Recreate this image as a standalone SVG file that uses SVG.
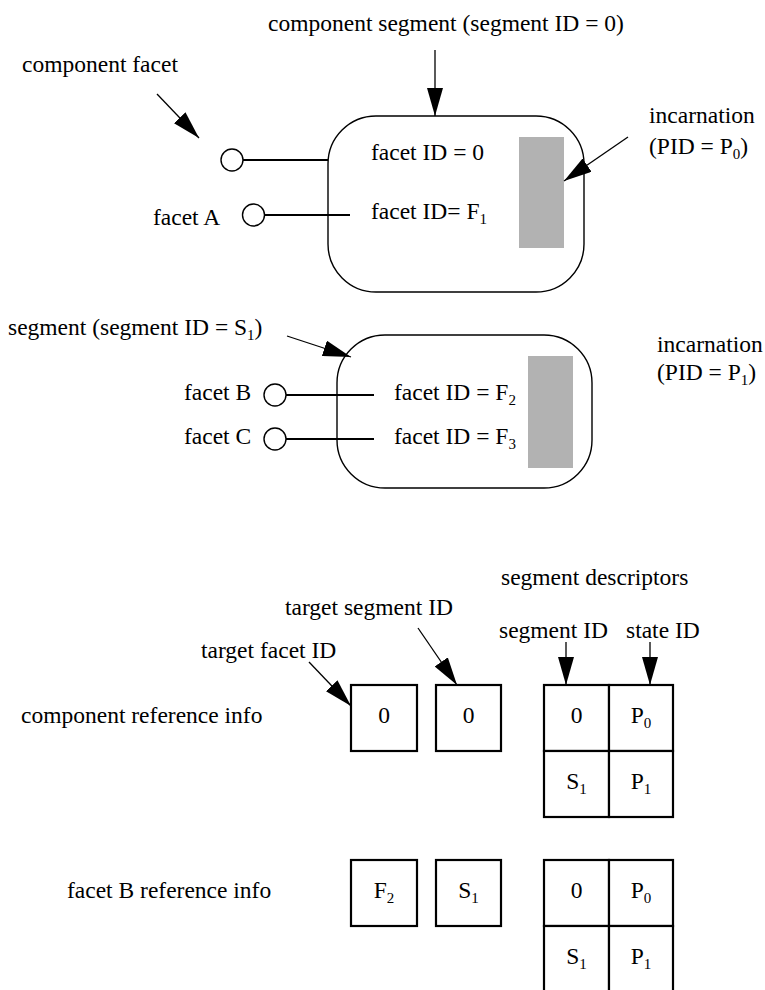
<svg xmlns="http://www.w3.org/2000/svg" width="765" height="990" viewBox="0 0 765 990">
<defs>
<marker id="ah" viewBox="0 0 28 16" refX="28" refY="8" markerWidth="28" markerHeight="16" markerUnits="userSpaceOnUse" orient="auto"><path d="M0,0 L28,8 L0,16 z" fill="#000"/></marker>
<style>
text{font-family:"Liberation Serif","Times New Roman",serif;font-size:23.5px;fill:#000}
.sub{font-size:15px}
.mid{text-anchor:middle}
.seg{fill:#fff;stroke:#000;stroke-width:1.4}
.inc{fill:#b2b2b2}
.port{fill:#fff;stroke:#000;stroke-width:1.4}
.wire{stroke:#000;stroke-width:2;fill:none}
.arrow{stroke:#000;stroke-width:1.3;fill:none;marker-end:url(#ah)}
.cell{fill:#fff;stroke:#000;stroke-width:2.2}
</style>
</defs>
<rect x="0" y="0" width="765" height="990" fill="#fff"/>

<g id="component-segment">
<rect class="seg" x="328" y="116" width="256" height="176" rx="48" ry="48"/>
<rect class="inc" x="519" y="137" width="45" height="111"/>
<text x="371" y="160">facet ID = 0</text>
<text x="371" y="219">facet ID= F<tspan class="sub" dy="5">1</tspan></text>
</g>

<g id="segment-s1">
<rect class="seg" x="337" y="335" width="255" height="153" rx="48" ry="48"/>
<rect class="inc" x="528" y="356" width="45" height="112"/>
<text x="394" y="400">facet ID = F<tspan class="sub" dy="5">2</tspan></text>
<text x="394" y="444">facet ID = F<tspan class="sub" dy="5">3</tspan></text>
</g>

<g id="facet-component">
<circle class="port" cx="232" cy="160" r="11"/>
</g>
<g id="facet-a">
<circle class="port" cx="253.5" cy="215" r="11"/>
<text x="153" y="225">facet A</text>
</g>
<g id="facet-b">
<circle class="port" cx="275" cy="395" r="11"/>
<text x="184" y="400">facet B</text>
</g>
<g id="facet-c">
<circle class="port" cx="275" cy="439" r="11"/>
<text x="184" y="444">facet C</text>
</g>

<g id="labels">
<text x="268" y="31">component segment (segment ID = 0)</text>
<text x="22" y="72">component facet</text>
<text x="649" y="123">incarnation</text>
<text x="649" y="154">(PID = P<tspan class="sub" dy="5">0</tspan><tspan dy="-5">)</tspan></text>
<text x="8" y="335">segment (segment ID = S<tspan class="sub" dy="5">1</tspan><tspan dy="-5">)</tspan></text>
<text x="657" y="352">incarnation</text>
<text x="657" y="380">(PID = P<tspan class="sub" dy="5">1</tspan><tspan dy="-5">)</tspan></text>
<text x="501" y="585">segment descriptors</text>
<text x="285" y="615">target segment ID</text>
<text x="499" y="638">segment ID</text>
<text x="626" y="638">state ID</text>
<text x="201" y="658">target facet ID</text>
<text x="21" y="723">component reference info</text>
<text x="67" y="898">facet B reference info</text>
</g>

<g id="component-reference-info">
<rect class="cell" x="351" y="685" width="66" height="66"/>
<text class="mid" x="384" y="723">0</text>
<rect class="cell" x="436" y="685" width="65" height="66"/>
<text class="mid" x="468.5" y="723">0</text>
<rect class="cell" x="544" y="685" width="65" height="66"/>
<rect class="cell" x="609" y="685" width="64" height="66"/>
<rect class="cell" x="544" y="751" width="65" height="66"/>
<rect class="cell" x="609" y="751" width="64" height="66"/>
<text class="mid" x="576.5" y="723">0</text>
<text class="mid" x="641" y="723">P<tspan class="sub" dy="5">0</tspan></text>
<text class="mid" x="576.5" y="789">S<tspan class="sub" dy="5">1</tspan></text>
<text class="mid" x="641" y="789">P<tspan class="sub" dy="5">1</tspan></text>
</g>

<g id="facet-b-reference-info">
<rect class="cell" x="351" y="860" width="66" height="66"/>
<text class="mid" x="384" y="898">F<tspan class="sub" dy="5">2</tspan></text>
<rect class="cell" x="436" y="860" width="65" height="66"/>
<text class="mid" x="468.5" y="898">S<tspan class="sub" dy="5">1</tspan></text>
<rect class="cell" x="544" y="860" width="65" height="66"/>
<rect class="cell" x="609" y="860" width="64" height="66"/>
<rect class="cell" x="544" y="926" width="65" height="66"/>
<rect class="cell" x="609" y="926" width="64" height="66"/>
<text class="mid" x="576.5" y="898">0</text>
<text class="mid" x="641" y="898">P<tspan class="sub" dy="5">0</tspan></text>
<text class="mid" x="576.5" y="964">S<tspan class="sub" dy="5">1</tspan></text>
<text class="mid" x="641" y="964">P<tspan class="sub" dy="5">1</tspan></text>
</g>

<g id="connectors">
<line class="wire" x1="243" y1="160" x2="328" y2="160"/>
<line class="wire" x1="264.5" y1="215" x2="350" y2="215"/>
<line class="wire" x1="286" y1="395" x2="374" y2="395"/>
<line class="wire" x1="286" y1="439" x2="374" y2="439"/>
<line class="arrow" x1="435" y1="50" x2="435" y2="116"/>
<line class="arrow" x1="157" y1="94" x2="199" y2="138"/>
<line class="arrow" x1="628" y1="137" x2="564" y2="181"/>
<line class="arrow" x1="287" y1="336" x2="351" y2="357"/>
<line class="arrow" x1="309" y1="662" x2="351" y2="706"/>
<line class="arrow" x1="418" y1="628" x2="457" y2="685"/>
<line class="arrow" x1="566" y1="642" x2="566" y2="685"/>
<line class="arrow" x1="650" y1="642" x2="650" y2="685"/>
</g>
</svg>
